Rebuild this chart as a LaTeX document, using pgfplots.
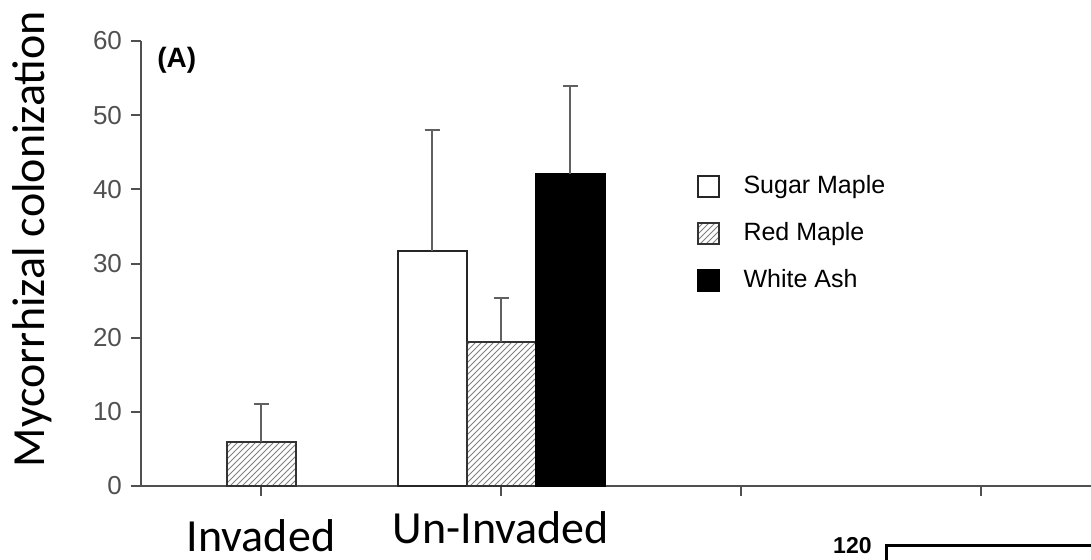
\documentclass[border=0pt]{standalone}
\usepackage{pgfplots}
\pgfplotsset{compat=1.18}
\usepackage{fontspec}
\setmainfont{Liberation Sans}
\newfontfamily\calibri{Carlito}
\usetikzlibrary{patterns}
\definecolor{axgray}{HTML}{505050}
\definecolor{errgray}{HTML}{606060}
\begin{document}
\begin{tikzpicture}
\path[use as bounding box, clip] (0,0) rectangle (545.5pt,-280pt);
\begin{axis}[
  at={(70.5pt,-243pt)}, anchor=south west,
  scale only axis, width=480pt, height=222.5pt,
  xmin=0.5, xmax=4.5, ymin=0, ymax=60,
  axis lines*=left,
  axis line style={axgray, line width=1pt},
  ytick={0,10,...,60},
  xtick={1,2,3,4},
  xticklabels={\raisebox{-4pt}[\height][0pt]{Invaded},Un-Invaded,{},{}},
  tick align=outside, major tick length=5pt,
  tick style={axgray, line width=1pt},
  /pgf/number format/assume math mode=true,
  yticklabel style={font=\fontsize{13}{15}\selectfont, text=axgray, xshift=-1pt},
  xticklabel style={font=\calibri\fontsize{23}{27}\selectfont, text=black, yshift=-6.5pt, inner ysep=1pt},
  ylabel={\calibri\fontsize{23}{27}\selectfont Mycorrhizal colonization},
  ylabel style={at={(axis description cs:-0.1,0.555)}, anchor=base},
  ybar, bar width=34.5pt,
  legend image code/.code={\draw[#1, line width=1pt] (0pt,-5.25pt) rectangle (10.5pt,5.25pt);},
  legend style={at={(rel axis cs:0.572,0.716)}, anchor=north west, draw=none, fill=none,
    font=\fontsize{12.5}{14}\selectfont, row sep=8.9pt,
    /tikz/every odd column/.append style={column sep=10pt}},
  legend cell align=left,
]
\addplot[ybar, bar shift=-34.5pt, fill=white, draw=black!85, line width=1pt,
  error bars/.cd, y dir=plus, y explicit,
  error bar style={errgray, line width=1pt},
  error mark options={rotate=90, mark size=3.75pt, errgray, line width=1pt}]
  coordinates {(2,31.7) +- (0,16.3)};
\addlegendentry{Sugar Maple}
\addplot[ybar, bar shift=0pt, pattern=north east lines, pattern color=gray, draw=black!80, line width=1pt,
  error bars/.cd, y dir=plus, y explicit,
  error bar style={errgray, line width=1pt},
  error mark options={rotate=90, mark size=3.75pt, errgray, line width=1pt}]
  coordinates {(1,5.9) +- (0,5.15) (2,19.4) +- (0,5.9)};
\addlegendentry{Red Maple}
\addplot[ybar, bar shift=34.5pt, fill=black, draw=black, line width=1pt,
  error bars/.cd, y dir=plus, y explicit,
  error bar style={errgray, line width=1pt},
  error mark options={rotate=90, mark size=3.75pt, errgray, line width=1pt}]
  coordinates {(2,42.1) +- (0,11.9)};
\addlegendentry{White Ash}
\end{axis}
\node[font=\bfseries\fontsize{14}{16}\selectfont, anchor=west, inner sep=0pt] at (78.5pt,-30pt) {(A)};
\node[font=\bfseries\fontsize{11.5}{13}\selectfont, anchor=base east, inner sep=0pt] at (436pt,-276.5pt) {120};
\draw[line width=1.5pt] (443pt,-290pt) -- (443pt,-272.5pt) -- (560pt,-272.5pt);
\end{tikzpicture}
\end{document}
